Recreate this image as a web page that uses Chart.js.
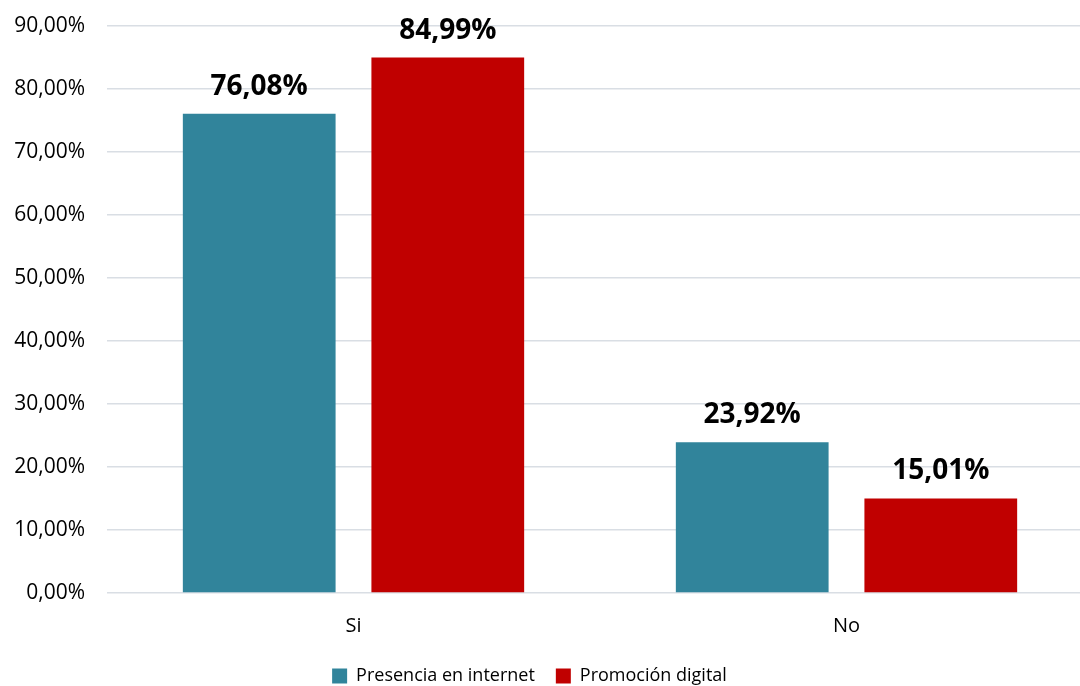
<!DOCTYPE html>
<html>
<head>
<meta charset="utf-8">
<script src="https://cdn.jsdelivr.net/npm/chart.js@4"></script>
<style>
  html, body { margin: 0; padding: 0; background: #fff; }
  #wrap { width: 1080px; height: 686px; overflow: hidden; }
</style>
</head>
<body>
<div id="wrap"><canvas id="myChart" width="1093" height="686"></canvas></div>
<script>
var categories = ['Si', 'No'];
var presencia = [76.08, 23.92];
var promocion = [84.99, 15.01];
var yTicks = [0, 10, 20, 30, 40, 50, 60, 70, 80, 90];

function fmt(v) {
    return v.toFixed(2).replace('.', ',') + '%';
}

// valores encima de cada barra
var barLabels = {
    id: 'barLabels',
    afterDatasetsDraw: function(chart) {
        var ctx = chart.ctx;
        ctx.save();
        ctx.font = 'bold 28px "Open Sans", sans-serif';
        ctx.fillStyle = '#000';
        ctx.textAlign = 'center';
        ctx.textBaseline = 'alphabetic';
        chart.data.datasets.forEach(function(ds, i) {
            chart.getDatasetMeta(i).data.forEach(function(bar, j) {
                ctx.fillText(fmt(ds.data[j]), bar.x, bar.y - 19);
            });
        });
        ctx.restore();
    }
};

// leyenda mas baja y centrada en la parte visible
var legendFit = {
    id: 'legendFit',
    beforeLayout: function(chart) {
        var lg = chart.legend;
        if (lg && !lg._patched) {
            var fit = lg.fit;
            lg.fit = function() { fit.call(this); this.height = 40; };
            lg._patched = true;
        }
    },
    afterLayout: function(chart) {
        var lg = chart.legend;
        lg.right = lg.left + 1059;
        lg.width = 1059;
    }
};

new Chart(document.getElementById('myChart'), {
    type: 'bar',
    data: {
        labels: categories,
        datasets: [{
            label: 'Presencia en internet',
            data: presencia,
            backgroundColor: '#31849B',
            categoryPercentage: 0.765,
            barPercentage: 0.81
        }, {
            label: 'Promoción digital',
            data: promocion,
            backgroundColor: '#C00000',
            categoryPercentage: 0.765,
            barPercentage: 0.81
        }]
    },
    options: {
        responsive: false,
        animation: false,
        layout: { padding: { top: 26, right: 0, left: 0, bottom: 0 } },
        plugins: {
            legend: {
                position: 'bottom',
                labels: {
                    font: { family: '"Open Sans", sans-serif', size: 18 },
                    color: '#000',
                    boxWidth: 15,
                    boxHeight: 15,
                    padding: 21
                }
            },
            tooltip: { enabled: false }
        },
        scales: {
            x: {
                grid: { display: false },
                border: { display: false },
                afterFit: function(scale) { scale.height = 53; },
                ticks: {
                    font: { family: '"Open Sans", sans-serif', size: 20 },
                    color: '#000',
                    padding: 13
                }
            },
            y: {
                min: 0,
                max: 90,
                afterBuildTicks: function(scale) {
                    scale.ticks = yTicks.map(function(v) { return { value: v }; });
                },
                afterFit: function(scale) {
                    scale.width = 107;
                    scale.paddingTop = 0;
                    scale.paddingBottom = 0;
                },
                grid: { color: '#D9DEE4', lineWidth: 1.5, drawTicks: false },
                border: { display: false },
                ticks: {
                    font: { family: '"Open Sans", sans-serif', size: 21 },
                    color: '#000',
                    padding: 22,
                    callback: function(v) { return fmt(v); }
                }
            }
        }
    },
    plugins: [barLabels, legendFit]
});
</script>
</body>
</html>
